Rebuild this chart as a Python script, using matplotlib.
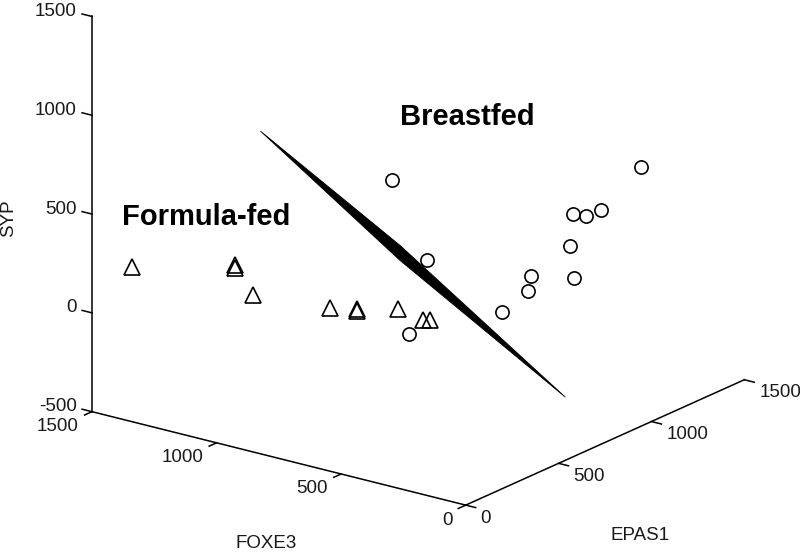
import numpy as np
import matplotlib
matplotlib.use('Agg')
import matplotlib.pyplot as plt
from matplotlib import font_manager as fm
from mpl_toolkits.mplot3d import proj3d
from mpl_toolkits.mplot3d.art3d import Poly3DCollection

# ---------------- data ----------------
formula_foxe3 = [1414, 1038, 1075, 943, 731, 569, 660, 532, 469, 426]
formula_epas1 = [100, 150, 200, 120, 250, 180, 300, 350, 400, 380]
formula_syp = [219, 326, 277, 216, 162, 237, 148, 176, 119, 141]

breast_foxe3 = [450, 300, 350, 200, 250, 150, 200, 100, 250, 150, 200, 100]
breast_epas1 = [208, 196, 166, 465, 687, 537, 829, 717, 912, 848, 995, 1076]
breast_syp = [916, 563, 185, 217, 289, 308, 396, 313, 507, 556, 508, 722]

plane_foxe3 = [986, 811, 361, 726]
plane_epas1 = [216, 733, 1017, 619]
plane_syp = [992, 250, -494, 249]

foxe3_ticks = [0, 500, 1000, 1500]
epas1_ticks = [0, 500, 1000, 1500]
syp_ticks = [-500, 0, 500, 1000, 1500]

# ---------------- fonts ----------------
names = {f.name for f in fm.fontManager.ttflist}
narrow = None
for cand in ['Liberation Sans Narrow', 'Nimbus Sans Narrow', 'Arial Narrow']:
    if cand in names:
        narrow = cand
        break
if narrow:
    tick_fp = dict(family=[narrow, 'DejaVu Sans'], fontsize=15.5)
else:
    tick_fp = dict(family=['Liberation Sans', 'DejaVu Sans'], fontsize=13.5)
bold_fam = ['Liberation Sans', 'DejaVu Sans']
tcol = '#1a1a1a'

W, H = 800, 554
fig = plt.figure(figsize=(W / 100, H / 100), dpi=100)
ax = fig.add_axes([0, 0, 1, 1], projection='3d', proj_type='ortho',
                  computed_zorder=False)
ax.view_init(elev=19.6, azim=-53.3)
ax.set_box_aspect((1, 1, 0.9))
ax.set_xlim(1500, 0)
ax.set_ylim(0, 1500)
ax.set_zlim(-500, 1500)
ax.set_axis_off()

xmax, xmin = 1500, 0
ymin, ymax = 0, 1500
zmin, zmax = -500, 1500

# plane
verts = [list(zip(plane_foxe3, plane_epas1, plane_syp))]
poly = Poly3DCollection(verts, facecolor='black', edgecolor='black',
                        linewidth=0.6, zorder=1)
ax.add_collection3d(poly)

# points
ax.plot(formula_foxe3, formula_epas1, formula_syp, linestyle='none',
        marker='^', ms=11, mfc='none', mec='black', mew=1.2, zorder=3)
ax.plot(breast_foxe3, breast_epas1, breast_syp, linestyle='none',
        marker='o', ms=9.5, mfc='none', mec='black', mew=1.2, zorder=3)

# axis lines
alw = 1.1
ax.plot([xmax, xmax], [ymin, ymin], [zmin, zmax], color='black', lw=alw, zorder=2)
ax.plot([xmin, xmax], [ymin, ymin], [zmin, zmin], color='black', lw=alw, zorder=2)
ax.plot([xmin, xmin], [ymin, ymax], [zmin, zmin], color='black', lw=alw, zorder=2)
tl = 40
for z in syp_ticks:
    ax.plot([xmax, xmax + tl], [ymin, ymin], [z, z], color='black', lw=alw, zorder=2)
for x in foxe3_ticks:
    ax.plot([x, x], [ymin, ymin - tl], [zmin, zmin], color='black', lw=alw, zorder=2)
for y in epas1_ticks:
    ax.plot([xmin, xmin - tl], [y, y], [zmin, zmin], color='black', lw=alw, zorder=2)

# ---------- calibrate axes placement to the reference layout ----------
fig.canvas.draw()
M = ax.get_proj()
ref = np.array([[xmin, ymin, zmin], [xmax, ymin, zmin],
                [xmin, ymax, zmin], [xmax, ymin, zmax]], float)
px, py, _ = proj3d.proj_transform(ref[:, 0], ref[:, 1], ref[:, 2], M)
bb = ax.get_position()
disp = ax.transData.transform(np.column_stack([px, py]))
target = np.array([[465, H - 505], [92, H - 412], [745, H - 379], [92, H - 17]], float)
dm, tm = disp.mean(0), target.mean(0)
s = np.sum((disp - dm) * (target - tm)) / np.sum((disp - dm) ** 2)
t = tm - s * dm
x0, y0, w, h = bb.x0 * W, bb.y0 * H, bb.width * W, bb.height * H
ax.set_position([(s * x0 + t[0]) / W, (s * y0 + t[1]) / H, s * w / W, s * h / H])


def proj(x, y, z):
    a, b, _ = proj3d.proj_transform(np.array([x], float), np.array([y], float),
                                    np.array([z], float), M)
    return a[0], b[0]


tkw = dict(xycoords='data', textcoords='offset pixels', annotation_clip=False,
           color=tcol, va='center', **tick_fp)
for z in syp_ticks:
    ax.annotate(f'{z}', xy=proj(xmax, ymin, z), xytext=(-15, 5), ha='right', **tkw)
for x in foxe3_ticks:
    ax.annotate(f'{x}', xy=proj(x, ymin, zmin), xytext=(-13, -15), ha='right', **tkw)
for y in epas1_ticks:
    ax.annotate(f'{y}', xy=proj(xmin, y, zmin), xytext=(15, -13), ha='left', **tkw)

# axis labels
fig.text(266 / W, 1 - 543 / H, 'FOXE3', ha='center', va='center', color=tcol, **tick_fp)
fig.text(640 / W, 1 - 536 / H, 'EPAS1', ha='center', va='center', color=tcol, **tick_fp)
fig.text(9 / W, 1 - 218 / H, 'SYP', ha='center', va='center', rotation=90,
         color=tcol, **tick_fp)

# group labels
fig.text(206 / W, 1 - 217 / H, 'Formula-fed', ha='center', va='center',
         family=bold_fam, fontsize=21, fontweight='bold', color='black')
fig.text(467 / W, 1 - 117 / H, 'Breastfed', ha='center', va='center',
         family=bold_fam, fontsize=21, fontweight='bold', color='black')

fig.savefig('out.png', dpi=100)
